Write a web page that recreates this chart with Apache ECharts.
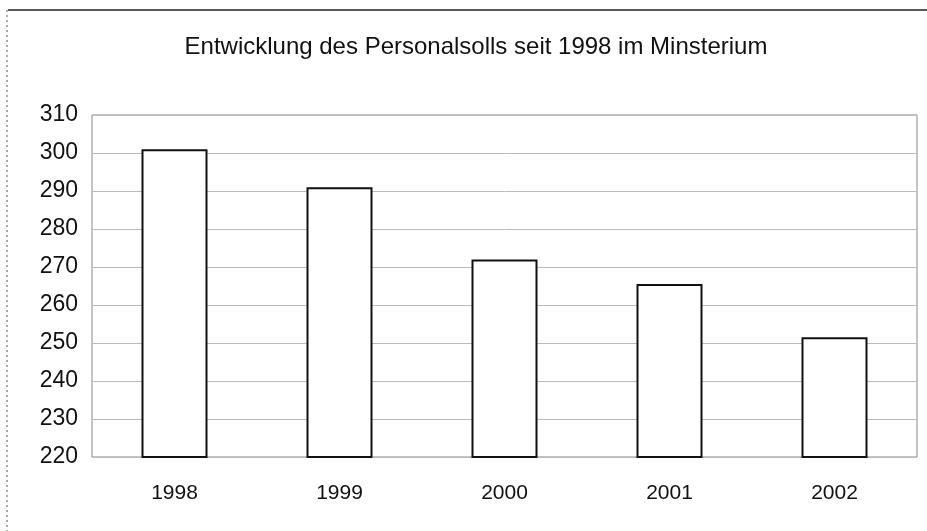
<!DOCTYPE html>
<html><head><meta charset="utf-8">
<script src="https://cdn.jsdelivr.net/npm/echarts@6/dist/echarts.min.js"></script>
<style>html,body{margin:0;padding:0;background:#fff}#c{width:927px;height:531px}</style>
</head><body><div id="c"></div>
<script>
const titleText = 'Entwicklung des Personalsolls seit 1998 im Minsterium';
const categories = ['1998', '1999', '2000', '2001', '2002'];
const personalsoll = [301, 291, 272, 265.5, 251.5];
const yMin = 220, yMax = 310, yStep = 10;

const chart = echarts.init(document.getElementById('c'));
chart.setOption({
  backgroundColor: '#fff',
  animation: false,
  title: {
    text: titleText, left: 471, textAlign: 'center', top: 30,
    textStyle: { fontFamily: 'Liberation Sans', fontSize: 24, fontWeight: 'normal', color: '#111' }
  },
  grid: { left: 92, right: 10, top: 115, bottom: 74, show: true, borderColor: '#888', borderWidth: 1, backgroundColor: 'transparent' },
  xAxis: {
    type: 'category', data: categories,
    axisLine: { show: false }, axisTick: { show: false },
    axisLabel: { fontFamily: 'Liberation Sans', fontSize: 21, color: '#111', margin: 26 }
  },
  yAxis: {
    type: 'value', min: yMin, max: yMax, interval: yStep,
    axisLine: { show: false }, axisTick: { show: false },
    axisLabel: { fontFamily: 'Liberation Sans', fontSize: 23, color: '#111', margin: 14 },
    splitLine: { lineStyle: { color: '#bbb', width: 1 } }
  },
  series: [{
    type: 'bar', data: personalsoll, barWidth: '40%',
    itemStyle: { color: '#fff', borderColor: '#111', borderWidth: 2 }
  }],
  graphic: [
    { type: 'line', shape: { x1: 8, y1: 10, x2: 927, y2: 10 }, style: { stroke: '#222', lineWidth: 1.5 } },
    { type: 'line', shape: { x1: 7, y1: 10, x2: 7, y2: 531 }, style: { stroke: '#555', lineWidth: 1, lineDash: [2, 3] } }
  ]
});
</script></body></html>
